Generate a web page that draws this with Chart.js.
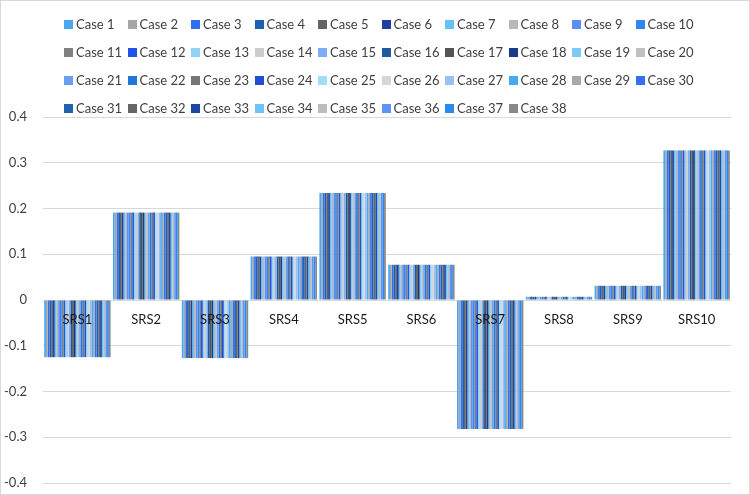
<!DOCTYPE html>
<html>
<head>
<meta charset="utf-8">
<script src="https://cdn.jsdelivr.net/npm/chart.js@4.4.1/dist/chart.umd.min.js"></script>
<style>
    body { margin: 0; background: #fff; }
    #wrap { position: relative; width: 750px; height: 495px; font-family: Lato, sans-serif; }
    #frame { position: absolute; left: 0; top: 0; width: 748px; height: 493px; border: 1px solid #d9d9d9; pointer-events: none; }
    #legend {
        position: absolute; left: 64px; top: 10px;
        display: grid; grid-template-columns: repeat(10, 63.5px); grid-auto-rows: 28px;
        font-size: 13px; color: #404040;
    }
    .legend-item { display: flex; align-items: center; white-space: nowrap; }
    .legend-box { width: 9px; height: 9px; margin-right: 3px; flex: none; }
</style>
</head>
<body>
<div id="wrap">
    <canvas id="chart" width="750" height="495"></canvas>
    <div id="legend"></div>
    <div id="frame"></div>
</div>
<script>
const categories = ['SRS1', 'SRS2', 'SRS3', 'SRS4', 'SRS5', 'SRS6', 'SRS7', 'SRS8', 'SRS9', 'SRS10'];

// every case reads the same value per SRS in the picture
const srsValues = [-0.125, 0.191, -0.127, 0.095, 0.234, 0.077, -0.282, 0.007, 0.031, 0.327];

const caseNames = [
    'Case 1', 'Case 2', 'Case 3', 'Case 4', 'Case 5', 'Case 6', 'Case 7', 'Case 8', 'Case 9', 'Case 10',
    'Case 11', 'Case 12', 'Case 13', 'Case 14', 'Case 15', 'Case 16', 'Case 17', 'Case 18', 'Case 19', 'Case 20',
    'Case 21', 'Case 22', 'Case 23', 'Case 24', 'Case 25', 'Case 26', 'Case 27', 'Case 28', 'Case 29', 'Case 30',
    'Case 31', 'Case 32', 'Case 33', 'Case 34', 'Case 35', 'Case 36', 'Case 37', 'Case 38'
];

const caseColors = [
    '#4aa8f0', '#a6a6a6', '#2e6ef0', '#1f5fb0', '#636363', '#1f3fa0', '#66c2f5', '#b8b8b8', '#5b8ff5', '#2f86f0',
    '#808080', '#1f55e8', '#8fd3f5', '#cccccc', '#7fadf5', '#1f5a9a', '#555555', '#1a3a8a', '#7ccaf7', '#c0c0c0',
    '#6a9ff0', '#2277d8', '#777777', '#1f4fd0', '#a0ddf7', '#d6d6d6', '#9dbff5', '#45aaf2', '#a8a8a8', '#3370f0',
    '#2162b0', '#666666', '#1f45a5', '#6cc5f7', '#bdbdbd', '#5f92f5', '#2a8af0', '#888888'
];

const yTicks = { min: -0.4, max: 0.4, step: 0.1 };

const ctx = document.getElementById('chart').getContext('2d');

const chart = new Chart(ctx, {
    type: 'bar',
    data: {
        labels: categories,
        datasets: caseNames.map((name, i) => ({
            label: name,
            data: srsValues,
            backgroundColor: caseColors[i],
            borderWidth: 0,
            barPercentage: 1,
            categoryPercentage: 0.965
        }))
    },
    options: {
        responsive: false,
        animation: false,
        layout: { padding: { top: 117, bottom: 12, left: 0, right: 19 } },
        plugins: {
            legend: { display: false },
            tooltip: { enabled: false }
        },
        scales: {
            x: {
                position: { y: 0 },
                grid: { display: false },
                border: { display: false },
                // axis sits on the zero line, so it should not take room at the bottom
                afterFit: function(scale) { scale.height = 0; },
                ticks: {
                    z: 1, // labels sit on top of the bars
                    padding: 4,
                    color: '#1a1a1a',
                    font: { family: 'Lato', size: 13 }
                }
            },
            y: {
                min: yTicks.min,
                max: yTicks.max,
                grid: { color: '#d9d9d9', lineWidth: 1, drawTicks: false },
                border: { display: false },
                afterFit: function(scale) {
                    scale.width = 43;
                    scale.paddingTop = 0;
                    scale.paddingBottom = 0;
                },
                ticks: {
                    stepSize: yTicks.step,
                    padding: 16,
                    color: '#404040',
                    font: { family: 'Lato', size: 13 },
                    callback: v => Math.abs(v) < 1e-9 ? '0' : v.toFixed(1)
                }
            }
        }
    }
});

// legend laid out in fixed columns like the original
const legend = document.getElementById('legend');
chart.data.datasets.forEach(ds => {
    const item = document.createElement('div');
    item.className = 'legend-item';
    item.innerHTML = `<span class="legend-box" style="background-color: ${ds.backgroundColor}"></span>${ds.label}`;
    legend.appendChild(item);
});
</script>
</body>
</html>
